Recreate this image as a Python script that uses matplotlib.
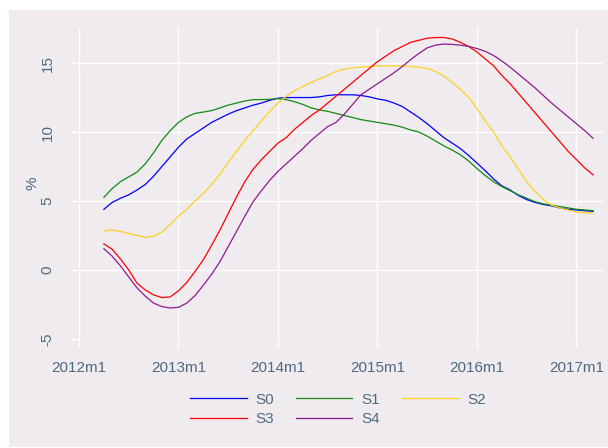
import matplotlib
matplotlib.use("Agg")
import matplotlib.pyplot as plt
from matplotlib.patches import Rectangle

plt.rcParams['font.family'] = ['Liberation Sans', 'DejaVu Sans']
plt.rcParams['axes.unicode_minus'] = False

# monthly index, 0 = 2012m1 ; data run 2012m4 .. 2017m3
months = list(range(3, 63))

s0 = [4.4, 4.9, 5.2, 5.45, 5.8, 6.2, 6.8, 7.5, 8.2, 8.9,
      9.5, 9.9, 10.3, 10.7, 11.0, 11.3, 11.55, 11.75, 11.95, 12.1,
      12.3, 12.45, 12.5, 12.5, 12.5, 12.5, 12.55, 12.65, 12.7, 12.7,
      12.7, 12.65, 12.55, 12.4, 12.3, 12.1, 11.85, 11.45, 11.05, 10.6,
      10.1, 9.6, 9.2, 8.8, 8.3, 7.75, 7.2, 6.6, 6.1, 5.8,
      5.4, 5.1, 4.9, 4.75, 4.65, 4.5, 4.4, 4.35, 4.3, 4.25]
s1 = [5.27, 5.9, 6.4, 6.75, 7.1, 7.7, 8.5, 9.4, 10.1, 10.7,
      11.1, 11.35, 11.45, 11.55, 11.75, 11.95, 12.1, 12.25, 12.35, 12.35,
      12.37, 12.42, 12.35, 12.2, 12.0, 11.75, 11.6, 11.5, 11.35, 11.2,
      11.05, 10.9, 10.8, 10.7, 10.6, 10.5, 10.35, 10.15, 10.0, 9.7,
      9.35, 9.0, 8.7, 8.35, 7.9, 7.35, 6.85, 6.4, 6.05, 5.75,
      5.45, 5.2, 4.95, 4.8, 4.7, 4.6, 4.5, 4.4, 4.35, 4.3]
s2 = [2.83, 2.9, 2.8, 2.65, 2.5, 2.37, 2.45, 2.75, 3.3, 3.9,
      4.4, 5.0, 5.55, 6.2, 6.95, 7.8, 8.6, 9.4, 10.1, 10.8,
      11.5, 12.1, 12.6, 13.0, 13.3, 13.6, 13.85, 14.1, 14.4, 14.55,
      14.65, 14.7, 14.75, 14.8, 14.8, 14.8, 14.8, 14.75, 14.7, 14.6,
      14.4, 14.05, 13.6, 13.1, 12.5, 11.7, 10.8, 10.0, 9.0, 8.2,
      7.3, 6.4, 5.7, 5.1, 4.7, 4.5, 4.35, 4.2, 4.15, 4.1]
s3 = [1.9, 1.5, 0.8, 0.0, -0.95, -1.45, -1.8, -2.0, -1.95, -1.5,
      -0.9, -0.1, 0.75, 1.8, 2.9, 4.1, 5.3, 6.4, 7.3, 8.0,
      8.6, 9.2, 9.6, 10.2, 10.7, 11.2, 11.6, 12.1, 12.6, 13.1,
      13.6, 14.1, 14.6, 15.1, 15.5, 15.9, 16.2, 16.5, 16.65, 16.8,
      16.85, 16.85, 16.75, 16.5, 16.2, 15.8, 15.3, 14.8, 14.1, 13.5,
      12.8, 12.1, 11.4, 10.7, 10.0, 9.3, 8.6, 8.0, 7.4, 6.9]
s4 = [1.55, 1.0, 0.3, -0.5, -1.3, -1.9, -2.4, -2.65, -2.75, -2.7,
      -2.4, -1.85, -1.1, -0.3, 0.6, 1.7, 2.8, 3.9, 4.95, 5.75,
      6.5, 7.15, 7.7, 8.25, 8.8, 9.4, 9.9, 10.4, 10.7, 11.3,
      12.0, 12.7, 13.1, 13.5, 13.9, 14.3, 14.75, 15.25, 15.7, 16.1,
      16.3, 16.38, 16.35, 16.3, 16.2, 16.05, 15.85, 15.55, 15.15, 14.7,
      14.2, 13.7, 13.2, 12.65, 12.1, 11.6, 11.1, 10.6, 10.1, 9.55]

series_names = ['S0', 'S1', 'S2', 'S3', 'S4']
series_colors = ['#0000ff', '#138a13', '#ffd21f', '#ff0000', '#8f1a8f']

xtick_pos = [0, 12, 24, 36, 48, 60]
xtick_labels = ['2012m1', '2013m1', '2014m1', '2015m1', '2016m1', '2017m1']
ytick_pos = [-5, 0, 5, 10, 15]

bg = '#efebef'
txt = '#4d6a7e'

fig = plt.figure(figsize=(6.08, 4.48), dpi=100, facecolor='white')
fig.patches.append(Rectangle((9 / 608, 1 / 448), 1 - 9 / 608, 1 - 11 / 448,
                             transform=fig.transFigure, facecolor=bg,
                             edgecolor='none', zorder=-10))

ax = fig.add_axes([79 / 608, 1 - 339 / 448, (603 - 79) / 608, (339 - 28) / 448])
ax.set_zorder(1)
ax.set_facecolor(bg)
for sp in ax.spines.values():
    sp.set_visible(False)

lines = []
for vals, name, col in zip([s0, s1, s2, s3, s4], series_names, series_colors):
    ln, = ax.plot(months, vals, color=col, lw=0.9, label=name)
    lines.append(ln)

ax.set_xlim(0, 63.2)
ax.set_ylim(-5, 17.54)
ax.set_xticks(xtick_pos)
ax.set_xticklabels(xtick_labels)
ax.set_yticks(ytick_pos)
ax.grid(True, color='white', lw=1.0)
ax.set_axisbelow(True)
ax.tick_params(length=6.5, width=1.0, color='white', labelcolor=txt,
               labelsize=11)
ax.tick_params(axis='x', pad=9)
ax.tick_params(axis='y', pad=11)
plt.setp(ax.get_yticklabels(), rotation=90, va='center')
ax.set_ylabel('%', color=txt, fontsize=11, labelpad=1)

order = [0, 3, 1, 4, 2]
fig.legend([lines[i] for i in order], [series_names[i] for i in order],
           loc='upper center', bbox_to_anchor=(338 / 608, 1 - 379 / 448),
           ncol=3, frameon=False, fontsize=11, labelcolor=txt,
           handlelength=3.7, handletextpad=0.6, columnspacing=1.4,
           labelspacing=0.35)

fig.savefig('out.png', dpi=100, facecolor='white')
